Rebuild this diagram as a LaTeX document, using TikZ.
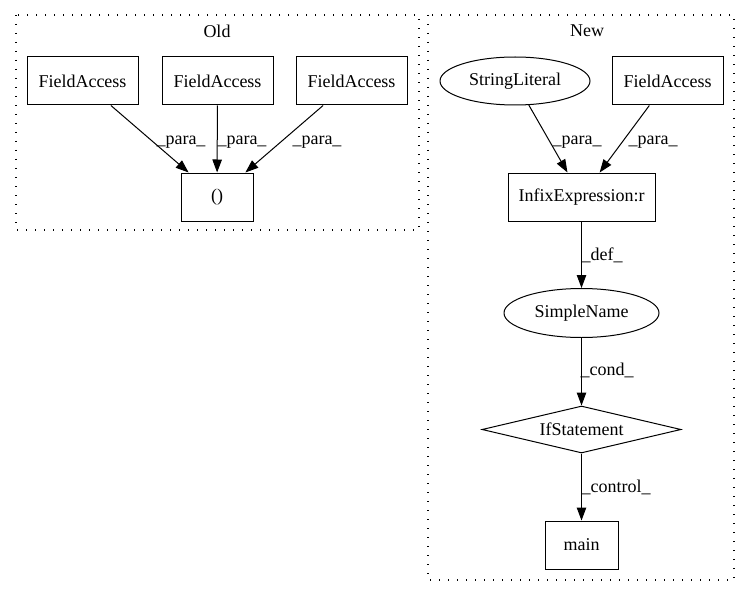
\documentclass[tikz,border=0pt]{standalone}
\usepackage{fontspec}
\setmainfont{Liberation Serif}
\usetikzlibrary{arrows.meta,shapes.geometric}
\begin{document}
\begin{tikzpicture}[x=1pt,y=-1pt,
  every node/.style={font=\fontsize{18}{21}\selectfont, inner sep=0pt},
  box/.style={draw, line width=1pt, rectangle, minimum height=48pt},
  ell/.style={draw, line width=1pt, ellipse},
  dia/.style={draw, line width=1pt, diamond, aspect=4.2},
  cluster/.style={line width=1.2pt, dash pattern=on 1.2pt off 7.8pt},
  edge/.style={line width=1pt, -{Triangle[length=13pt,width=9.5pt]}},
  lbl/.style={anchor=center}]
\useasboundingbox (0,0) rectangle (751,596);
% clusters
\draw[cluster] (16,15) rectangle (419,230);
\draw[cluster] (428,15) rectangle (734,580);
\node (oldt) at (217,31) {Old};
\node (newt) at (587,31) {New};
% Old nodes
\node[box, minimum width=111pt] (fa1) at (82.5,81) {FieldAccess};
\node[box, minimum width=111pt] (fa2) at (217.5,81) {FieldAccess};
\node[box, minimum width=111pt] (fa3) at (351.5,81) {FieldAccess};
\node[box, minimum width=72pt] (par) at (217,197) {()};
\draw[edge] (fa1) -- (par);
\draw[edge] (fa2) -- (par);
\draw[edge] (fa3) -- (par);
\node[lbl] (l1) at (181,142) {\_para\_};
\node[lbl] (l2) at (242,142) {\_para\_};
\node[lbl] (l3) at (317,142) {\_para\_};
% New nodes
\node[ell, minimum width=150pt, minimum height=48pt] (sl) at (515,81) {StringLiteral};
\node[box, minimum width=111pt] (fa4) at (667.5,81) {FieldAccess};
\node[box, minimum width=147pt] (inf) at (581.5,197) {InfixExpression:r};
\node[ell, minimum width=155pt, minimum height=49pt] (sn) at (581.5,313) {SimpleName};
\node[dia, minimum width=199pt, minimum height=47pt] (ifs) at (581.5,429.5) {IfStatement};
\node[box, minimum width=73pt] (mn) at (581.5,545) {main};
\draw[edge] (sl) -- (inf);
\draw[edge] (fa4) -- (inf);
\draw[edge] (inf) -- (sn);
\draw[edge] (sn) -- (ifs);
\draw[edge] (ifs) -- (mn);
\node[lbl] (l4) at (577,142) {\_para\_};
\node[lbl] (l5) at (653,142) {\_para\_};
\node[lbl] (l6) at (602,255) {\_def\_};
\node[lbl] (l7) at (607,370) {\_cond\_};
\node[lbl] (l8) at (616,487) {\_control\_};
\end{tikzpicture}
\end{document}
